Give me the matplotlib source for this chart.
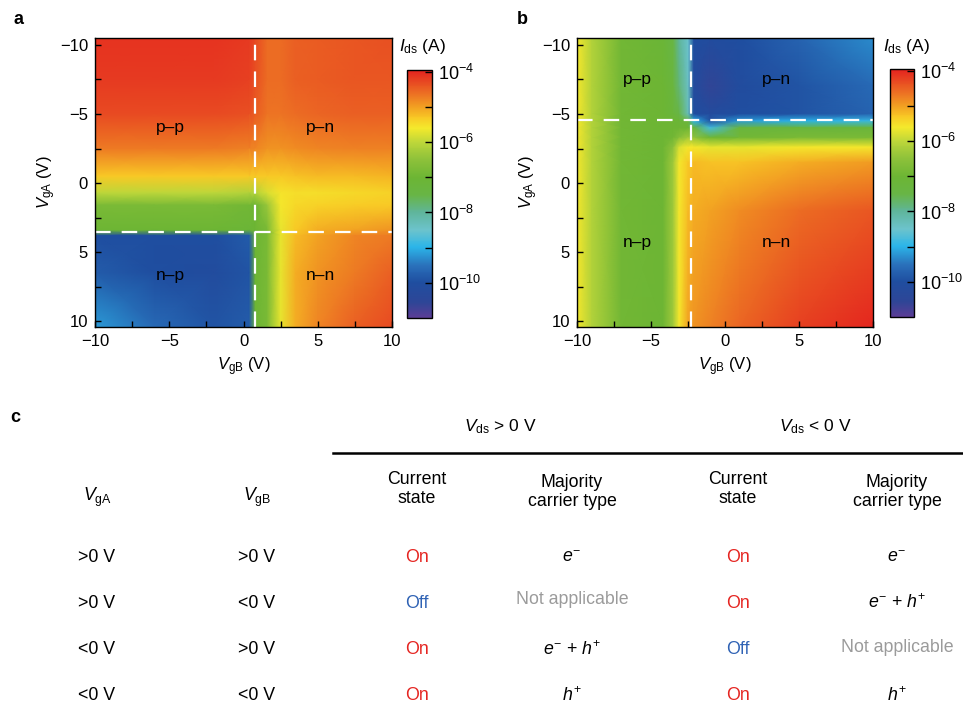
"""Gate-map of I_ds for the dual-gate device (a, b) plus the on/off summary table (c)."""
import numpy as np
import matplotlib
matplotlib.use("Agg")
import matplotlib.pyplot as plt
from matplotlib.colors import LinearSegmentedColormap
from matplotlib.lines import Line2D

plt.rcParams["font.family"] = ["Liberation Sans", "DejaVu Sans"]
plt.rcParams["mathtext.fontset"] = "custom"
plt.rcParams["mathtext.rm"] = "Liberation Sans"
plt.rcParams["mathtext.it"] = "Liberation Sans:italic"
plt.rcParams["mathtext.bf"] = "Liberation Sans:bold"

W, H = 963, 704

# ---- panel a: log10(I_ds / A), on a coarse (VgA, VgB) grid
a_vgb = [-10, -6, -2, 0.4, 0.8, 1.6, 2.5, 3.5, 5, 7.5, 10]
a_vga = [-10.5, -7.5, -5, -2.5, -0.5, 0.7, 1.6, 3.4, 3.8, 6.5, 10.4]
a_logI = [
    [-4.10, -4.10, -4.10, -4.15, -4.30, -4.60, -4.60, -4.50, -4.45, -4.40, -4.35],
    [-4.15, -4.15, -4.15, -4.20, -4.35, -4.60, -4.60, -4.50, -4.45, -4.40, -4.40],
    [-4.30, -4.30, -4.30, -4.35, -4.45, -4.65, -4.65, -4.60, -4.55, -4.50, -4.50],
    [-4.70, -4.70, -4.70, -4.75, -4.80, -4.90, -4.90, -4.85, -4.80, -4.75, -4.75],
    [-5.30, -5.30, -5.30, -5.30, -5.30, -5.30, -5.30, -5.25, -5.20, -5.20, -5.15],
    [-6.00, -6.00, -6.00, -6.10, -6.10, -5.80, -5.55, -5.50, -5.50, -5.45, -5.40],
    [-6.80, -6.80, -6.80, -6.90, -7.00, -6.40, -5.60, -5.45, -5.40, -5.35, -5.30],
    [-7.00, -7.00, -7.00, -7.10, -7.00, -6.80, -5.70, -5.30, -5.10, -5.00, -4.90],
    [-10.0, -10.0, -10.0, -9.80, -7.00, -6.80, -5.70, -5.20, -5.00, -4.80, -4.70],
    [-9.80, -10.0, -10.1, -9.90, -7.00, -6.80, -5.70, -5.10, -4.90, -4.70, -4.50],
    [-9.20, -9.60, -9.90, -9.80, -7.00, -6.80, -5.70, -5.10, -4.80, -4.50, -4.30],
]
a_cut_vgb, a_cut_vga = 0.8, 3.55

# ---- panel b
b_vgb = [-10, -9, -7, -4.2, -3.5, -3.1, -2.5, -2.1, -1, 1, 5, 10]
b_vga = [-10.5, -7, -5.0, -4.5, -4.0, -3.3, -2.6, -1.5, 2, 10.4]
b_logI = [
    [-5.6, -6.1, -6.9, -7.1, -7.5, -8.0, -8.5, -10.0, -10.1, -10.0, -9.7, -9.3],
    [-5.6, -6.1, -6.9, -7.0, -7.3, -7.8, -8.4, -10.2, -10.6, -10.1, -9.9, -9.6],
    [-5.6, -6.1, -6.9, -7.0, -7.2, -7.5, -8.3, -10.0, -10.2, -10.0, -9.9, -9.7],
    [-5.6, -6.1, -6.9, -7.0, -7.0, -7.1, -7.3, -9.0, -9.9, -9.2, -9.0, -8.9],
    [-5.6, -6.1, -6.9, -7.0, -7.0, -7.0, -7.0, -7.2, -8.8, -7.3, -7.2, -7.2],
    [-5.6, -6.1, -6.9, -7.0, -6.9, -6.6, -6.3, -6.5, -7.0, -6.9, -6.8, -6.8],
    [-5.6, -6.1, -6.9, -7.0, -6.5, -5.8, -5.6, -5.6, -5.7, -5.7, -5.6, -5.6],
    [-5.6, -6.1, -6.9, -7.0, -6.3, -5.6, -5.3, -5.2, -5.25, -5.25, -5.1, -4.95],
    [-5.6, -6.1, -6.9, -7.0, -6.3, -5.6, -5.2, -5.1, -5.0, -4.85, -4.6, -4.4],
    [-5.6, -6.1, -6.9, -7.0, -6.3, -5.6, -5.0, -4.9, -4.75, -4.55, -4.2, -4.0],
]
b_cut_vgb, b_cut_vga = -2.3, -4.55

regions = ["p–p", "p–n", "n–p", "n–n"]
a_label_xy = [(-4.9, -4.0), (5.2, -4.0), (-4.9, 6.7), (5.2, 6.7)]
b_label_xy = [(-5.9, -7.5), (3.45, -7.5), (-5.9, 4.3), (3.45, 4.3)]

cbar_ticks = [-4, -6, -8, -10]
cbar_minor = [-5, -7, -9]

# ---- panel c table
row_vga = [">0 V", ">0 V", "<0 V", "<0 V"]
row_vgb = [">0 V", "<0 V", ">0 V", "<0 V"]
pos_state = ["On", "Off", "On", "On"]
pos_carrier = [r"$e^{-}$", "Not applicable", r"$e^{-}$ + $h^{+}$", r"$h^{+}$"]
neg_state = ["On", "On", "Off", "On"]
neg_carrier = [r"$e^{-}$", r"$e^{-}$ + $h^{+}$", "Not applicable", r"$h^{+}$"]

RED, BLUE, GRAY = "#e52521", "#2f62b4", "#9b9b9b"

cmap = LinearSegmentedColormap.from_list("ids", [
    (0.000, "#5b3d96"), (0.057, "#2f4596"), (0.142, "#1f4ea0"),
    (0.213, "#2a72bb"), (0.284, "#2bb5e9"), (0.355, "#6cc3cc"),
    (0.426, "#5fb59a"), (0.497, "#68b545"), (0.567, "#6cb534"),
    (0.638, "#8dc13a"), (0.709, "#bcd63a"), (0.766, "#f4e92c"),
    (0.809, "#f8c825"), (0.851, "#f2a222"), (0.908, "#ec6d23"),
    (0.950, "#e84c22"), (1.000, "#e4231f")])
VMIN, VMAX = -11.0, -3.95


def px(x, y):
    return x / W, 1 - y / H


fig = plt.figure(figsize=(W / 100, H / 100), dpi=100)


def gate_map(rect, crect, vgb, vga, logI, cut_x, cut_y, label_xy):
    ax = fig.add_axes(rect)
    X, Y = np.meshgrid(vgb, vga)
    m = ax.pcolormesh(X, Y, np.array(logI), shading="gouraud", cmap=cmap,
                      vmin=VMIN, vmax=VMAX, rasterized=True)
    ax.set_xlim(-10, 10)
    ax.set_ylim(10.4, -10.5)
    ax.set_xticks([-10, -5, 0, 5, 10])
    ax.set_yticks([-10, -5, 0, 5, 10])
    ax.set_xticks([-7.5, -2.5, 2.5, 7.5], minor=True)
    ax.set_yticks([-7.5, -2.5, 2.5, 7.5], minor=True)
    ax.tick_params(which="both", direction="in", length=4, width=1,
                   labelsize=12, pad=5, top=False, right=False)
    dash = dict(color="white", lw=1.6, dashes=(7, 5))
    ax.axvline(cut_x, **dash)
    ax.axhline(cut_y, **dash)
    for lab, (x, y) in zip(regions, label_xy):
        ax.text(x, y, lab, ha="center", va="center", fontsize=12.5)
    ax.set_xlabel(r"$V_{\rm gB}$ (V)", fontsize=12, labelpad=5)
    ax.set_ylabel(r"$V_{\rm gA}$ (V)", fontsize=12, labelpad=1)
    for s in ax.spines.values():
        s.set_linewidth(1)

    cax = fig.add_axes(crect)
    cb = fig.colorbar(m, cax=cax)
    cb.set_ticks(cbar_ticks)
    cb.set_ticklabels([rf"$10^{{{t}}}$" for t in cbar_ticks])
    cax.set_yticks(cbar_minor, minor=True)
    cax.tick_params(which="both", direction="in", length=5, width=1,
                    labelsize=13, pad=4)
    cb.outline.set_linewidth(1)
    return ax, cax


gate_map([95 / W, 1 - 327 / H, 297 / W, 289 / H],
         [407 / W, 1 - 318 / H, 25 / W, 248 / H],
         a_vgb, a_vga, a_logI, a_cut_vgb, a_cut_vga, a_label_xy)
gate_map([577 / W, 1 - 327 / H, 296 / W, 289 / H],
         [890 / W, 1 - 317 / H, 24 / W, 248 / H],
         b_vgb, b_vga, b_logI, b_cut_vgb, b_cut_vga, b_label_xy)

fig.text(*px(423, 47), r"$I_{\rm ds}$ (A)", ha="center", va="center", fontsize=12.5)
fig.text(*px(907, 47), r"$I_{\rm ds}$ (A)", ha="center", va="center", fontsize=12.5)
fig.text(*px(18, 20), "a", ha="center", va="center", fontsize=13, weight="bold")
fig.text(*px(522, 20), "b", ha="center", va="center", fontsize=13, weight="bold")
fig.text(*px(15, 417), "c", ha="center", va="center", fontsize=13, weight="bold")

# ---- table c
fs = 12.8
fig.text(*px(500, 427), r"$V_{\rm ds}$ > 0 V", ha="center", va="center", fontsize=12.5)
fig.text(*px(815, 427), r"$V_{\rm ds}$ < 0 V", ha="center", va="center", fontsize=12.5)
fig.add_artist(Line2D([333 / W, 1.0], [1 - 453 / H] * 2, color="black", lw=1.8))

cols = [97, 257, 417, 572, 738, 897]
fig.text(*px(cols[0], 497), r"$V_{\rm gA}$", ha="center", va="center", fontsize=fs)
fig.text(*px(cols[1], 497), r"$V_{\rm gB}$", ha="center", va="center", fontsize=fs)
for c in (cols[2], cols[4]):
    fig.text(*px(c, 489), "Current\nstate", ha="center", va="center",
             fontsize=fs, linespacing=1.2)
for c in (cols[3], cols[5]):
    fig.text(*px(c, 492), "Majority\ncarrier type", ha="center", va="center",
             fontsize=fs, linespacing=1.2)

state_col = {"On": RED, "Off": BLUE}
rows_y = [557, 603, 650, 696]
for i, y in enumerate(rows_y):
    fig.text(*px(cols[0], y), row_vga[i], ha="center", va="center", fontsize=fs)
    fig.text(*px(cols[1], y), row_vgb[i], ha="center", va="center", fontsize=fs)
    fig.text(*px(cols[2], y), pos_state[i], ha="center", va="center",
             fontsize=fs, color=state_col[pos_state[i]])
    fig.text(*px(cols[4], y), neg_state[i], ha="center", va="center",
             fontsize=fs, color=state_col[neg_state[i]])
    for c, txt in ((cols[3], pos_carrier[i]), (cols[5], neg_carrier[i])):
        na = txt == "Not applicable"
        fig.text(*px(c, y - 3 if na else y), txt, ha="center", va="center",
                 fontsize=fs, color=GRAY if na else "black")

fig.savefig("out.png", dpi=100)
